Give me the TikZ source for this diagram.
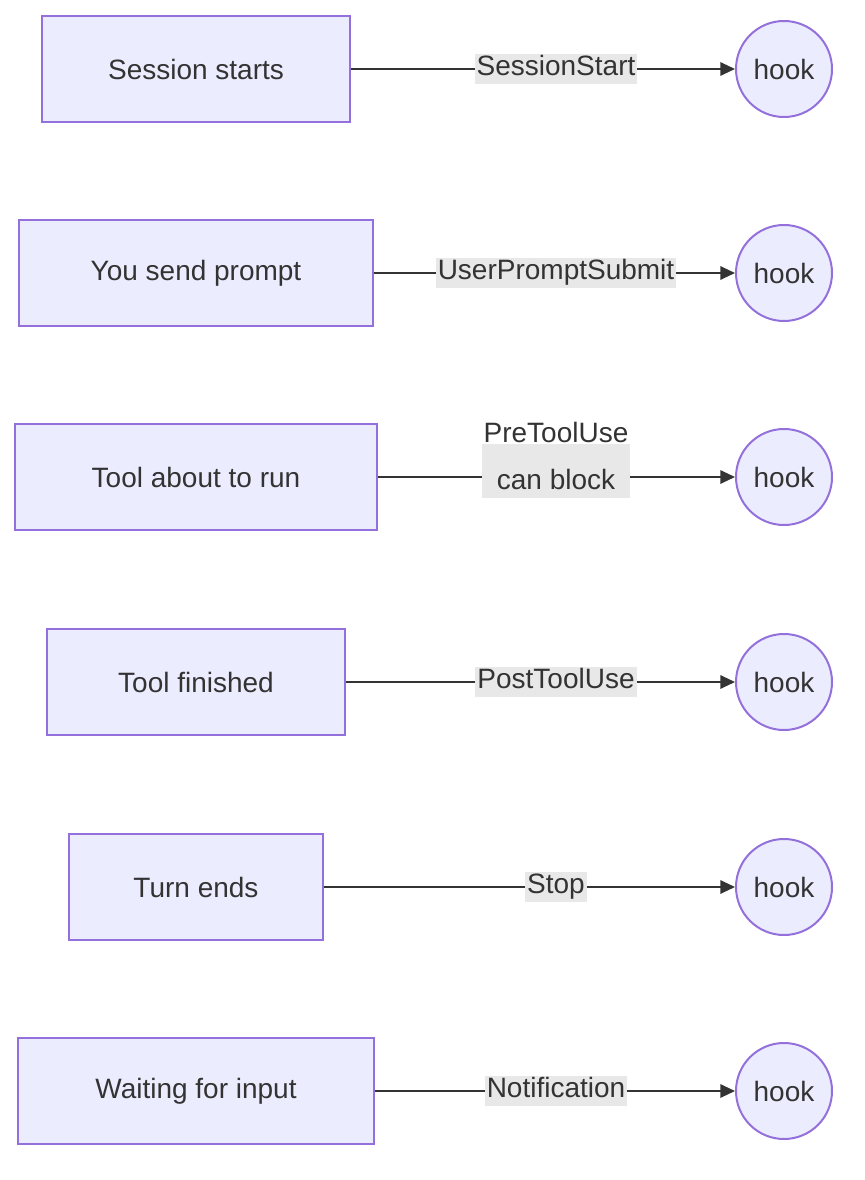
\documentclass[tikz,border=0pt]{standalone}
\usepackage{fontspec}
\setmainfont{Liberation Sans}
\usetikzlibrary{arrows.meta, positioning}
\definecolor{boxfill}{HTML}{ECECFF}
\definecolor{boxline}{HTML}{9370DB}
\definecolor{edgeline}{HTML}{333333}
\definecolor{labelbg}{HTML}{E8E8E8}
\tikzset{
  stagebox/.style={draw=boxline, fill=boxfill, line width=1.5pt, minimum height=79pt,
    inner sep=0pt, font=\fontsize{21}{26}\selectfont, text=edgeline},
  hooknode/.style={circle, draw=boxline, fill=boxfill, line width=1.5pt, minimum size=72pt,
    inner sep=0pt, font=\fontsize{21}{26}\selectfont, text=edgeline},
  edgelabel/.style={fill=labelbg, inner sep=1.5pt, font=\fontsize{21}{35}\selectfont,
    text=edgeline, align=center, text height=15pt, text depth=5pt},
  flow/.style={draw=edgeline, line width=1.5pt, -{Triangle[length=11pt,width=10pt]}}
}
\begin{document}
\begin{tikzpicture}[x=0.75pt,y=-0.75pt]
  \useasboundingbox (0,0) rectangle (864,1180);

  % stages
  \node[stagebox, minimum width=231pt] (start)  at (196,69)   {Session starts};
  \node[stagebox, minimum width=265pt] (prompt) at (196,273)  {You send prompt};
  \node[stagebox, minimum width=271pt] (pre)    at (196,477)  {Tool about to run};
  \node[stagebox, minimum width=223pt] (post)   at (196,682)  {Tool finished};
  \node[stagebox, minimum width=190pt] (stop)   at (196,887)  {Turn ends};
  \node[stagebox, minimum width=267pt] (notify) at (196,1091) {Waiting for input};

  % hooks
  \foreach \n/\y in {1/69, 2/273, 3/477, 4/682, 5/887, 6/1091}
    \node[hooknode] (hook\n) at (784,\y) {hook};

  % connectors
  \draw[flow] (start)  -- (hook1);
  \draw[flow] (prompt) -- (hook2);
  \draw[flow] (pre)    -- (hook3);
  \draw[flow] (post)   -- (hook4);
  \draw[flow] (stop)   -- (hook5);
  \draw[flow] (notify) -- (hook6);

  % edge labels
  \node[edgelabel] (lab1) at (556,69)   {SessionStart};
  \node[edgelabel] (lab2) at (556,273)  {UserPromptSubmit};
  \node[edgelabel, text height=32pt] (lab3) at (556,471) {PreToolUse\\can block};
  \node[edgelabel] (lab4) at (556,682)  {PostToolUse};
  \node[edgelabel] (lab5) at (556,887)  {Stop};
  \node[edgelabel] (lab6) at (556,1091) {Notification};
\end{tikzpicture}
\end{document}
